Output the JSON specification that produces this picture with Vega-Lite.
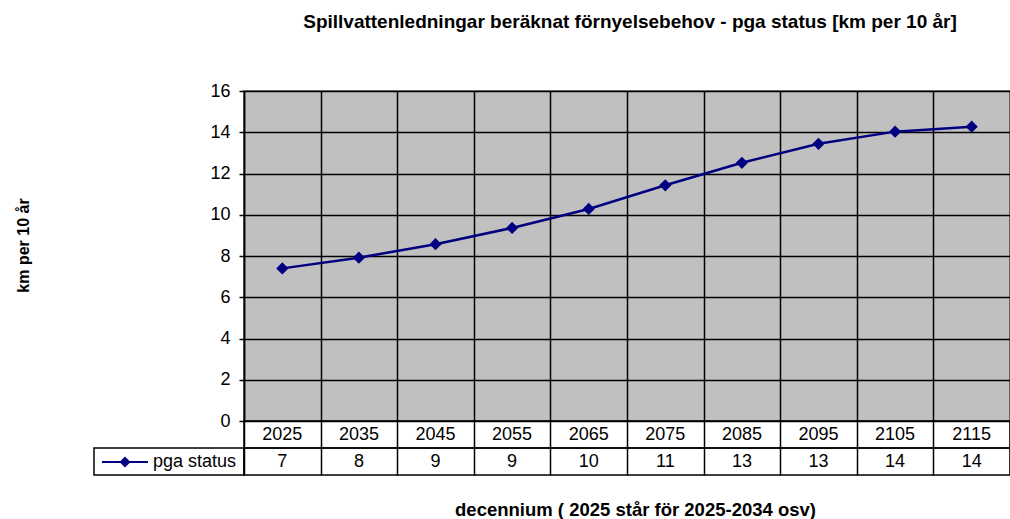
{
  "$schema": "https://vega.github.io/schema/vega-lite/v6.json",
  "padding": {"left": 13, "top": 13, "right": 0, "bottom": 0},
  "title": {
    "text": "Spillvattenledningar beräknat förnyelsebehov - pga status [km per 10 år]",
    "fontSize": 19,
    "fontWeight": "bold",
    "font": "Liberation Sans",
    "color": "#000",
    "anchor": "middle",
    "frame": "group",
    "dx": 536,
    "offset": 49
  },
  "columns": 2,
  "spacing": 0,
  "bounds": "flush",
  "align": "each",
  "resolve": {"scale": {"color": "independent"}, "legend": {"color": "independent"}},
  "datasets": {
    "km": [
      {"decennium": "2025", "km": 7.40, "serie": "pga status"},
      {"decennium": "2035", "km": 7.92, "serie": "pga status"},
      {"decennium": "2045", "km": 8.57, "serie": "pga status"},
      {"decennium": "2055", "km": 9.36, "serie": "pga status"},
      {"decennium": "2065", "km": 10.28, "serie": "pga status"},
      {"decennium": "2075", "km": 11.43, "serie": "pga status"},
      {"decennium": "2085", "km": 12.52, "serie": "pga status"},
      {"decennium": "2095", "km": 13.44, "serie": "pga status"},
      {"decennium": "2105", "km": 14.03, "serie": "pga status"},
      {"decennium": "2115", "km": 14.27, "serie": "pga status"}
    ]
  },
  "concat": [
    {
      "width": 150, "height": 330,
      "data": {"values": [{}]},
      "mark": {"type": "text", "text": ""},
      "encoding": {},
      "view": {"stroke": null}
    },
    {
      "width": 766, "height": 330,
      "data": {"name": "km"},
      "view": {"fill": "#C0C0C0", "stroke": "#808080", "strokeWidth": 2},
      "encoding": {
        "x": {
          "field": "decennium", "type": "ordinal",
          "scale": {"paddingInner": 0, "paddingOuter": 0},
          "axis": {"tickBand": "extent", "grid": true, "gridColor": "#000", "gridWidth": 1.5, "gridOpacity": 1, "labels": false, "ticks": false, "domain": false, "title": null}
        },
        "y": {
          "field": "km", "type": "quantitative",
          "scale": {"domain": [0, 16], "nice": false, "zero": true},
          "axis": {
            "values": [0, 2, 4, 6, 8, 10, 12, 14, 16],
            "grid": true, "gridColor": "#000", "gridWidth": 1.5, "gridOpacity": 1,
            "domainColor": "#000", "domainWidth": 1.5,
            "tickColor": "#000", "tickSize": 5, "tickWidth": 1.5,
            "labelFontSize": 18, "labelColor": "#000", "labelPadding": 9, "labelFont": "Liberation Sans",
            "title": "km per 10 år", "titleFontSize": 16, "titleFontWeight": "bold", "titleColor": "#000", "titleFont": "Liberation Sans",
            "titleX": -221, "titleY": 154, "titleBaseline": "middle", "titleAlign": "center", "titleAngle": -90
          }
        }
      },
      "layer": [
        {
          "mark": {"type": "line", "strokeWidth": 2.5},
          "encoding": {
            "color": {
              "field": "serie", "type": "nominal",
              "scale": {"range": ["#000080"]},
              "legend": {
                "orient": "none", "legendX": -143, "legendY": 347, "title": null, "padding": 0,
                "symbolType": "M-1,0H1M0,-0.18L0.18,0L0,0.18L-0.18,0Z",
                "symbolSize": 2116, "symbolStrokeWidth": 2, "symbolFillColor": "#000080", "symbolStrokeColor": "#000080",
                "labelFontSize": 18, "labelColor": "#000", "labelFont": "Liberation Sans", "labelOffset": 4
              }
            }
          }
        },
        {
          "mark": {"type": "point", "shape": "diamond", "filled": true, "size": 150, "opacity": 1},
          "encoding": {
            "color": {"field": "serie", "type": "nominal", "scale": {"range": ["#000080"]}}
          }
        }
      ]
    },
    {
      "width": 150, "height": 27,
      "data": {"values": [{}]},
      "mark": {"type": "text", "text": ""},
      "encoding": {},
      "view": {"stroke": null}
    },
    {
      "width": 766, "height": 27,
      "data": {"name": "km"},
      "view": {"stroke": "#000", "strokeWidth": 1.5},
      "mark": {"type": "text", "fontSize": 18, "color": "#000", "font": "Liberation Sans"},
      "encoding": {
        "x": {
          "field": "decennium", "type": "ordinal",
          "scale": {"paddingInner": 0, "paddingOuter": 0},
          "axis": {"tickBand": "extent", "grid": true, "gridColor": "#000", "gridWidth": 1.5, "gridOpacity": 1, "labels": false, "ticks": false, "domain": false, "title": null}
        },
        "text": {"field": "decennium"}
      }
    },
    {
      "width": 150, "height": 27,
      "data": {"values": [{}]},
      "mark": {"type": "text", "text": ""},
      "encoding": {},
      "view": {"stroke": "#000", "strokeWidth": 1.5}
    },
    {
      "width": 766, "height": 27,
      "data": {"name": "km"},
      "view": {"stroke": "#000", "strokeWidth": 1.5},
      "mark": {"type": "text", "fontSize": 18, "color": "#000", "font": "Liberation Sans"},
      "encoding": {
        "x": {
          "field": "decennium", "type": "ordinal",
          "scale": {"paddingInner": 0, "paddingOuter": 0},
          "axis": {
            "tickBand": "extent", "grid": true, "gridColor": "#000", "gridWidth": 1.5, "gridOpacity": 1,
            "labels": false, "ticks": false, "domain": false,
            "title": "decennium ( 2025 står för 2025-2034 osv)",
            "titleFontSize": 18.5, "titleFontWeight": "bold", "titleColor": "#000", "titleFont": "Liberation Sans",
            "titlePadding": 25, "titleX": 391, "titleAlign": "center"
          }
        },
        "text": {"field": "km", "type": "quantitative", "format": ".0f"}
      }
    }
  ],
  "config": {
    "font": "Liberation Sans",
    "view": {"stroke": null}
  }
}
